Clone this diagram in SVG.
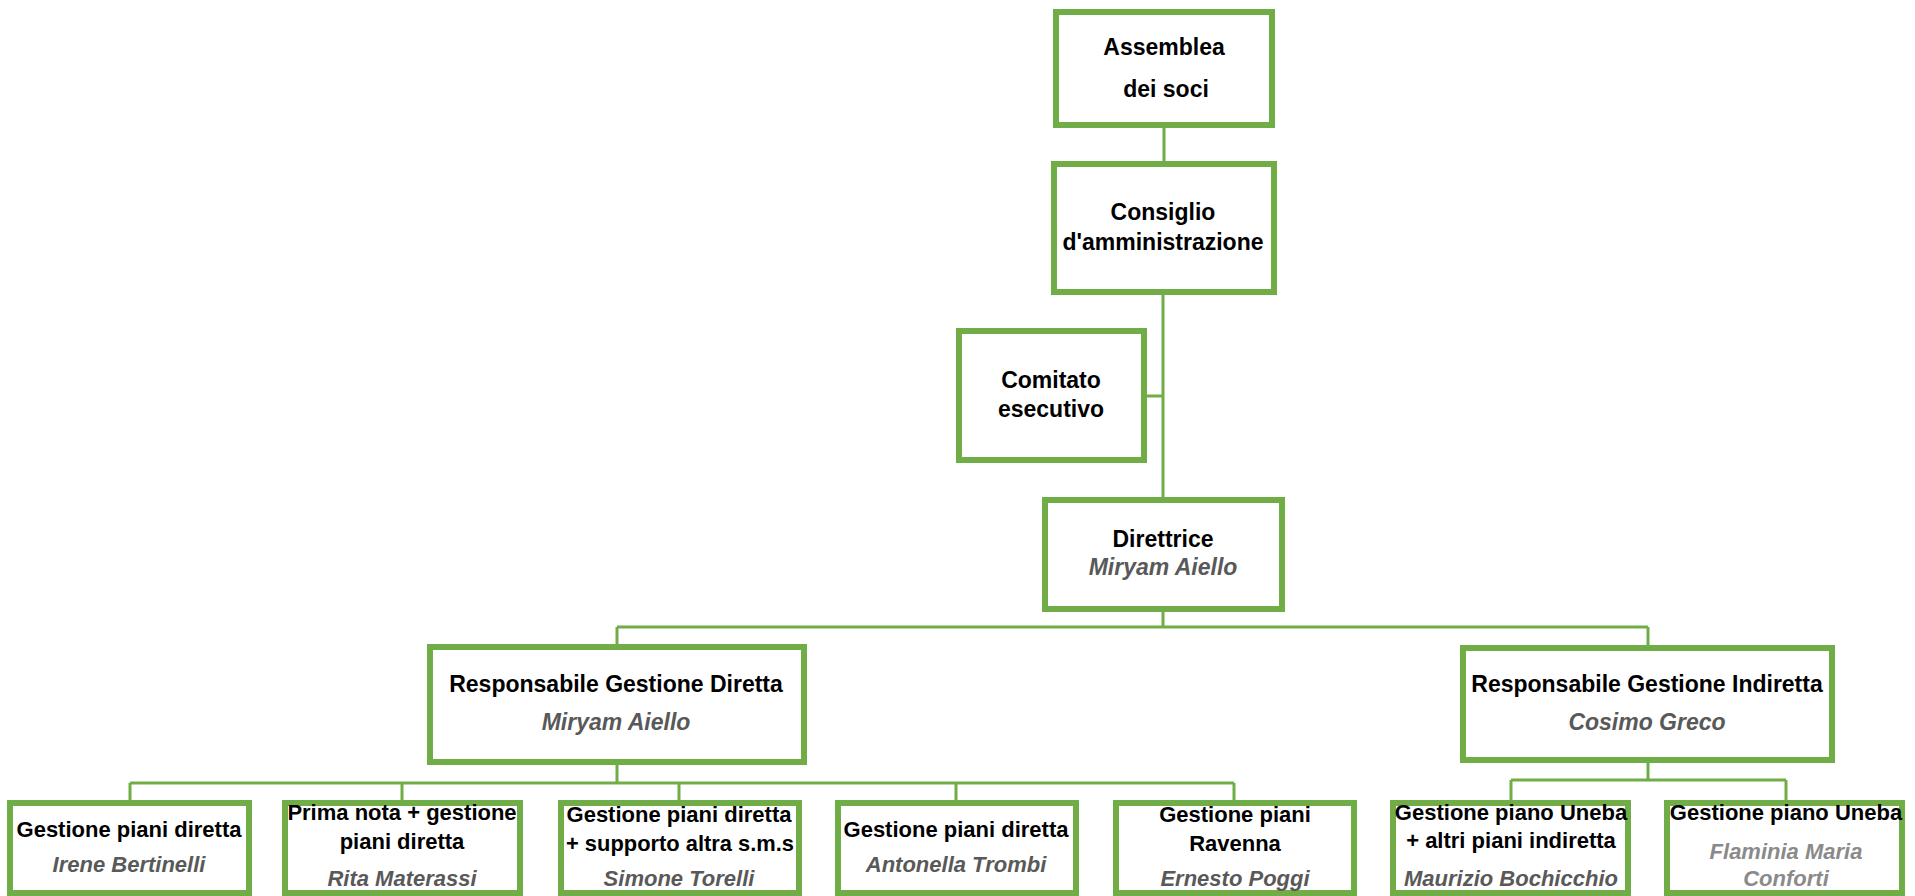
<svg xmlns="http://www.w3.org/2000/svg" width="1915" height="896" viewBox="0 0 1915 896">
<style>
.box{fill:#ffffff;stroke:#70AD47;stroke-width:6}
.ln{fill:none;stroke:#70AD47;stroke-width:3}
.t{font-family:"Liberation Sans",Arial,sans-serif;font-weight:bold;fill:#000000;text-anchor:middle}
.n{font-family:"Liberation Sans",Arial,sans-serif;font-weight:bold;font-style:italic;fill:#595959;text-anchor:middle}
.lt{fill:#8A8A8A}
.big{font-size:23px}
.md{font-size:22px}
</style>
<rect width="1915" height="896" fill="#ffffff"/>
<g id="connectors">
<path class="ln" d="M1164 128V161"/>
<path class="ln" d="M1163 295V497"/>
<path class="ln" d="M1147 396H1163"/>
<path class="ln" d="M1163 612V627M617 627H1648M617 627V644M1648 627V645"/>
<path class="ln" d="M617 765V783M130 783H1234M130 783V800M402 783V800M679 783V800M956 783V800M1234 783V800"/>
<path class="ln" d="M1648 763V780M1511 780H1786M1511 780V800M1786 780V800"/>
</g>
<g id="assemblea">
<rect class="box" x="1056" y="12" width="216" height="113"/>
<text class="t big" x="1164" y="55">Assemblea</text>
<text class="t big" x="1166" y="97">dei soci</text>
</g>
<g id="consiglio">
<rect class="box" x="1054" y="164" width="220" height="128"/>
<text class="t big" x="1163" y="220">Consiglio</text>
<text class="t big" x="1163" y="250">d'amministrazione</text>
</g>
<g id="comitato">
<rect class="box" x="959" y="331" width="185" height="129"/>
<text class="t big" x="1051" y="388">Comitato</text>
<text class="t big" x="1051" y="417">esecutivo</text>
</g>
<g id="direttrice">
<rect class="box" x="1045" y="500" width="237" height="109"/>
<text class="t big" x="1163" y="547">Direttrice</text>
<text class="n big" x="1163" y="575">Miryam Aiello</text>
</g>
<g id="resp-diretta">
<rect class="box" x="430" y="647" width="374" height="115"/>
<text class="t big" x="616" y="692">Responsabile Gestione Diretta</text>
<text class="n big" x="616" y="730">Miryam Aiello</text>
</g>
<g id="resp-indiretta">
<rect class="box" x="1463" y="648" width="369" height="112"/>
<text class="t big" x="1647" y="692">Responsabile Gestione Indiretta</text>
<text class="n big" x="1647" y="730">Cosimo Greco</text>
</g>
<g id="b1">
<rect class="box" x="10" y="803" width="239" height="90"/>
<text class="t md" x="129" y="837">Gestione piani diretta</text>
<text class="n md" x="129" y="872">Irene Bertinelli</text>
</g>
<g id="b2">
<rect class="box" x="285" y="803" width="235" height="90"/>
<text class="t md" x="402" y="820">Prima nota + gestione</text>
<text class="t md" x="402" y="849">piani diretta</text>
<text class="n md" x="402" y="886">Rita Materassi</text>
</g>
<g id="b3">
<rect class="box" x="561" y="803" width="238" height="90"/>
<text class="t md" x="679" y="822">Gestione piani diretta</text>
<text class="t md" x="680" y="851" textLength="228" lengthAdjust="spacingAndGlyphs">+ supporto altra s.m.s</text>
<text class="n md" x="679" y="886">Simone Torelli</text>
</g>
<g id="b4">
<rect class="box" x="838" y="803" width="238" height="90"/>
<text class="t md" x="956" y="837">Gestione piani diretta</text>
<text class="n md" x="956" y="872">Antonella Trombi</text>
</g>
<g id="b5">
<rect class="box" x="1116" y="803" width="238" height="90"/>
<text class="t md" x="1235" y="822">Gestione piani</text>
<text class="t md" x="1235" y="851">Ravenna</text>
<text class="n md" x="1235" y="886">Ernesto Poggi</text>
</g>
<g id="b6">
<rect class="box" x="1393" y="803" width="235" height="90"/>
<text class="t md" x="1511" y="820">Gestione piano Uneba</text>
<text class="t md" x="1511" y="848">+ altri piani indiretta</text>
<text class="n md" x="1511" y="886">Maurizio Bochicchio</text>
</g>
<g id="b7">
<rect class="box" x="1667" y="803" width="235" height="90"/>
<text class="t md" x="1786" y="820">Gestione piano Uneba</text>
<text class="n md lt" x="1786" y="859">Flaminia Maria</text>
<text class="n md lt" x="1786" y="886">Conforti</text>
</g>
</svg>
